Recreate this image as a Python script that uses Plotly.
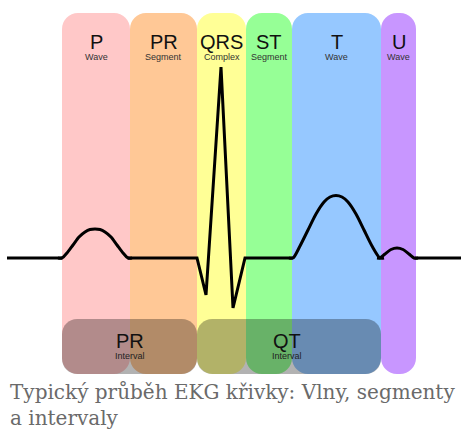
import plotly.graph_objects as go

# ---------------- data ----------------
band_labels = ["P", "PR", "QRS", "ST", "T", "U"]
band_sublabels = ["Wave", "Segment", "Complex", "Segment", "Wave", "Wave"]
band_start = [62, 130, 197, 246, 292, 381]
band_end = [130, 197, 246, 292, 381, 416]
band_colors = ["#ffc8c8", "#ffc896", "#ffff96", "#96ff96", "#96c8ff", "#c896ff"]

interval_labels = ["PR", "QT"]
interval_sublabels = ["Interval", "Interval"]
interval_start = [62, 197]
interval_end = [197, 381]

# ECG trace (time units on x, screen-style amplitude units on y; baseline = 258)
flat_x = [7, 62, None, 128, 197, 206, 221, 233, 245, 293, None, 415, 461]
flat_y = [258, 258, None, 258, 258, 295, 67, 308, 258, 258, None, 258, 258]

p_wave_x = [58, 62, 67, 73, 79, 85, 90, 95, 100, 105, 111, 117, 123, 128, 132]
p_wave_y = [258, 258, 253, 245, 237, 232, 229.5, 229, 229.5, 232, 237, 245, 253, 258, 258]

t_wave_x = [289, 293, 300, 308, 316, 324, 330, 336, 342, 348, 356, 364, 372, 380, 384]
t_wave_y = [258, 258, 246, 230, 214, 202, 197, 195.5, 197, 202, 214, 230, 246, 258, 258]

u_wave_x = [377, 380, 385, 391, 397, 403, 409, 414, 418]
u_wave_y = [258, 258, 254, 249.5, 248, 249.5, 254, 258, 258]

caption_lines = ["Typický průběh EKG křivky: Vlny, segmenty", "a intervaly"]

# ---------------- helpers ----------------
K = 0.5523


def rounded_rect(x0, x1, y0, y1, r):
    k = r * (1 - K)
    return (
        f"M {x0 + r},{y0} L {x1 - r},{y0} "
        f"C {x1 - k},{y0} {x1},{y0 + k} {x1},{y0 + r} "
        f"L {x1},{y1 - r} "
        f"C {x1},{y1 - k} {x1 - k},{y1} {x1 - r},{y1} "
        f"L {x0 + r},{y1} "
        f"C {x0 + k},{y1} {x0},{y1 - k} {x0},{y1 - r} "
        f"L {x0},{y0 + r} "
        f"C {x0},{y0 + k} {x0 + k},{y0} {x0 + r},{y0} Z"
    )


BAND_TOP, BAND_BOTTOM = 13, 374
INT_TOP, INT_BOTTOM = 319, 374

shapes = []
for s, e, c in zip(band_start, band_end, band_colors):
    shapes.append(dict(type="path", xref="x", yref="y", layer="below",
                       path=rounded_rect(s, e, BAND_TOP, BAND_BOTTOM, 16),
                       fillcolor=c, line=dict(width=0)))
for s, e in zip(interval_start, interval_end):
    shapes.append(dict(type="path", xref="x", yref="y", layer="above",
                       path=rounded_rect(s, e, INT_TOP, INT_BOTTOM, 15),
                       fillcolor="rgba(0,0,0,0.3)", line=dict(width=0)))

annotations = []
for lab, sub, s, e in zip(band_labels, band_sublabels, band_start, band_end):
    cx = (s + e) / 2
    annotations.append(dict(x=cx, y=42, xref="x", yref="y", text=lab, showarrow=False,
                            xanchor="center", yanchor="middle",
                            font=dict(family="Liberation Sans", size=20, color="#111111")))
    annotations.append(dict(x=cx, y=57, xref="x", yref="y", text=sub, showarrow=False,
                            xanchor="center", yanchor="middle",
                            font=dict(family="Liberation Sans", size=9, color="#333333")))
for lab, sub, s, e in zip(interval_labels, interval_sublabels, interval_start, interval_end):
    cx = (s + e) / 2 - (0 if lab == "PR" else 2)
    annotations.append(dict(x=cx, y=341, xref="x", yref="y", text=lab, showarrow=False,
                            xanchor="center", yanchor="middle",
                            font=dict(family="Liberation Sans", size=20, color="#111111")))
    annotations.append(dict(x=cx, y=356, xref="x", yref="y", text=sub, showarrow=False,
                            xanchor="center", yanchor="middle",
                            font=dict(family="Liberation Sans", size=9, color="#222222")))

for i, line in enumerate(caption_lines):
    annotations.append(dict(x=8, y=392 + i * 26, xref="x", yref="y", text=line,
                            showarrow=False, xanchor="left", yanchor="middle",
                            font=dict(family="DejaVu Serif", size=20, color="#6a6a6a")))

fig = go.Figure()
line_style = dict(color="black", width=3)
fig.add_trace(go.Scatter(x=flat_x, y=flat_y, mode="lines", line=dict(**line_style, shape="linear"),
                         hoverinfo="skip", connectgaps=False))
for xs, ys in [(p_wave_x, p_wave_y), (t_wave_x, t_wave_y), (u_wave_x, u_wave_y)]:
    fig.add_trace(go.Scatter(x=xs, y=ys, mode="lines",
                             line=dict(**line_style, shape="spline", smoothing=0.8),
                             hoverinfo="skip"))

fig.update_layout(
    width=461, height=430,
    margin=dict(l=0, r=0, t=0, b=0),
    paper_bgcolor="white", plot_bgcolor="white",
    showlegend=False,
    xaxis=dict(range=[0, 461], visible=False, fixedrange=True),
    yaxis=dict(range=[430, 0], visible=False, fixedrange=True),
    shapes=shapes,
    annotations=annotations,
)

fig.write_html("out.html", config={"displayModeBar": False},
               post_script="document.body.style.margin='0';document.body.style.overflow='hidden';")
